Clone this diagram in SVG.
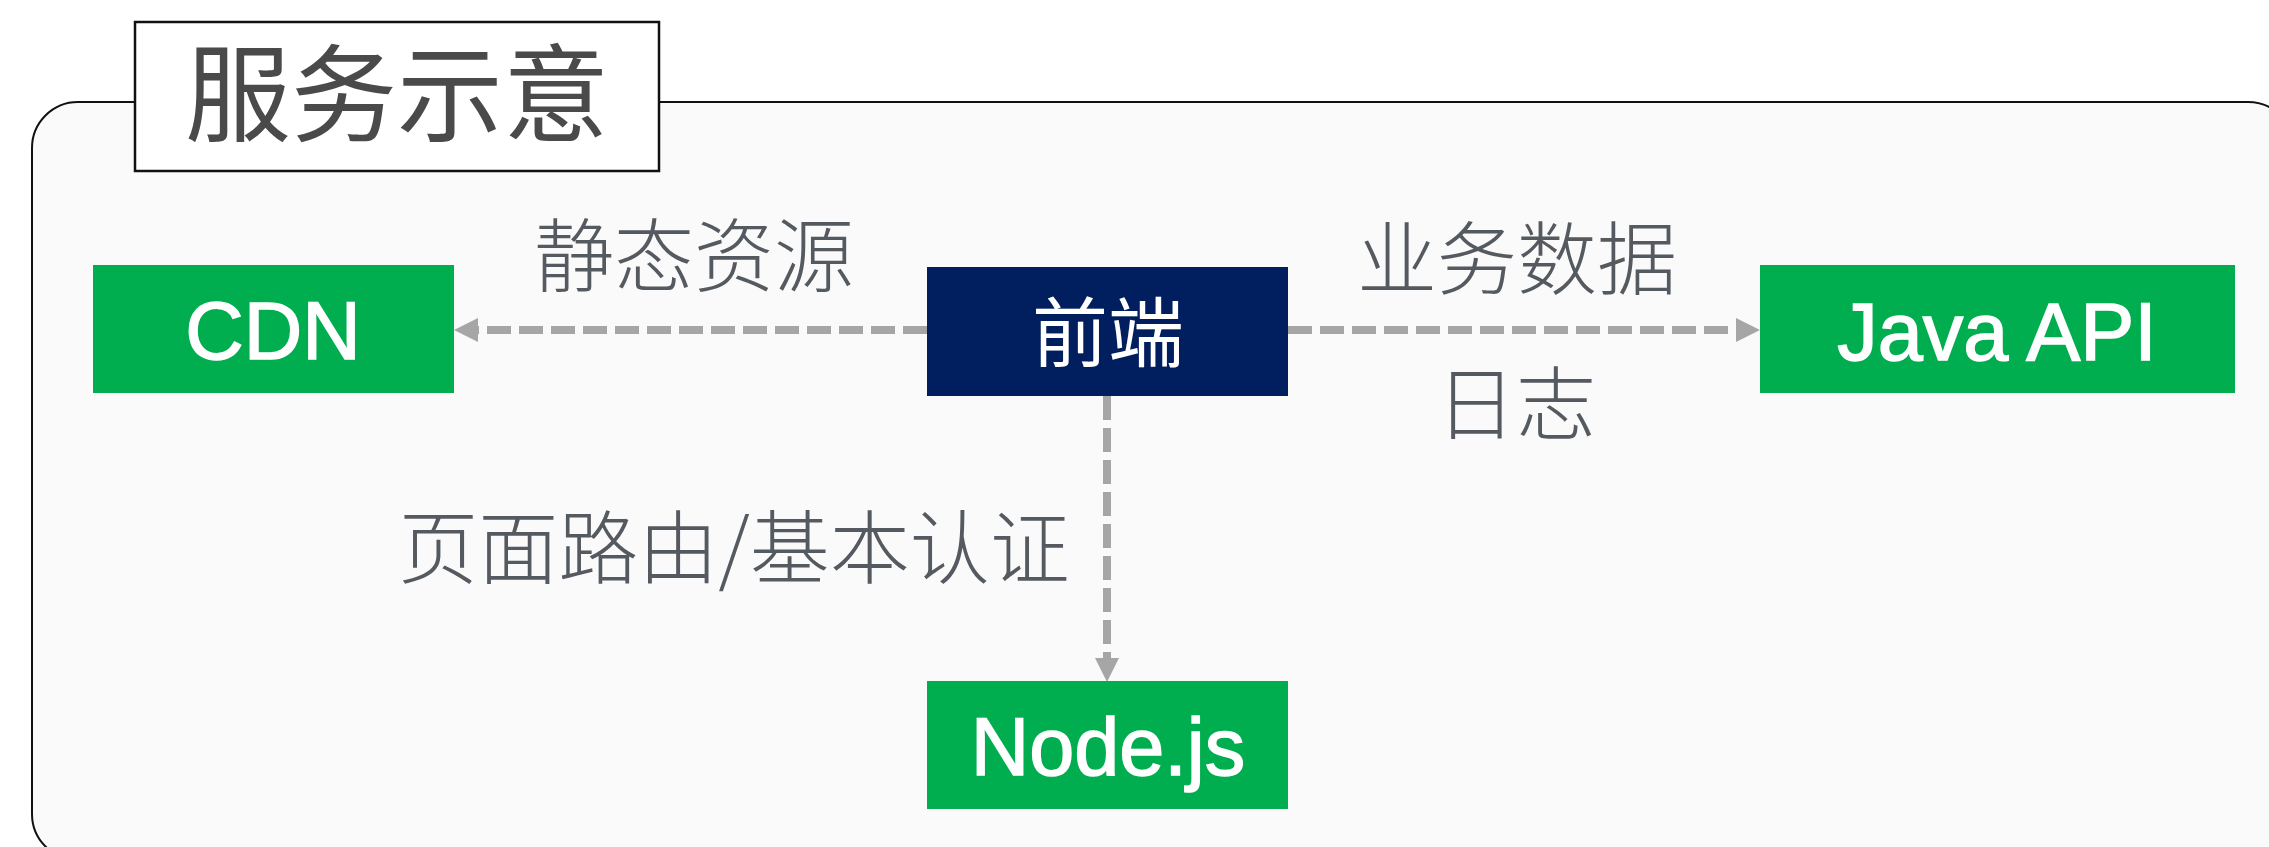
<svg xmlns="http://www.w3.org/2000/svg" width="2269" height="847" viewBox="0 0 2269 847">
<style>
.lbl{font-family:"Noto Sans CJK SC","Noto Sans",sans-serif;font-weight:300;font-size:80px;fill:#555a60;text-anchor:middle;dominant-baseline:central}
.green{fill:#00ae4f}
.wtxt{font-family:"Liberation Sans",Arial,sans-serif;font-size:81px;fill:#ffffff;stroke:#ffffff;stroke-width:1.5;text-anchor:middle}
.conn{fill:none;stroke:#a6a6a6;stroke-width:8;stroke-dasharray:24 8}
</style>
<defs>
<marker id="arr" markerUnits="userSpaceOnUse" markerWidth="24" markerHeight="24" refX="0" refY="12" orient="auto">
<path d="M0,0 L24,12 L0,24 Z" fill="#a6a6a6"/>
</marker>
</defs>
<rect width="2269" height="847" fill="#ffffff"/>
<g id="container">
<rect x="32" y="102" width="2262" height="758" rx="46" ry="46" fill="#fafafa" stroke="#111111" stroke-width="2"/>
</g>
<g id="title">
<rect x="135" y="22" width="524" height="149" fill="#ffffff" stroke="#111111" stroke-width="2.5"/>
<text x="397" y="97" font-family="'Liberation Serif','Noto Sans CJK SC',serif" font-size="106" fill="#4a4a4a" text-anchor="middle" dominant-baseline="central">服务示意</text>
</g>
<g id="connectors">
<line class="conn" x1="927" y1="330" x2="478" y2="330" marker-end="url(#arr)"/>
<line class="conn" x1="1288" y1="330" x2="1736" y2="330" marker-end="url(#arr)"/>
<line class="conn" x1="1107" y1="396" x2="1107" y2="658" marker-end="url(#arr)"/>
</g>
<g id="labels">
<text class="lbl" x="694" y="250">静态资源</text>
<text class="lbl" x="1517" y="253">业务数据</text>
<text class="lbl" x="1516" y="398">日志</text>
<text class="lbl" x="734" y="542">页面路由/基本认证</text>
</g>
<g id="node-cdn">
<rect class="green" x="93" y="265" width="361" height="128"/>
<text class="wtxt" x="273" y="359">CDN</text>
</g>
<g id="node-frontend">
<rect x="927" y="267" width="361" height="129" fill="#011f5e"/>
<text x="1108" y="335" font-family="'Liberation Serif','Noto Sans CJK SC',serif" font-size="76" fill="#ffffff" text-anchor="middle" dominant-baseline="central">前端</text>
</g>
<g id="node-java">
<rect class="green" x="1760" y="265" width="475" height="128"/>
<text class="wtxt" x="1997" y="360">Java API</text>
</g>
<g id="node-nodejs">
<rect class="green" x="927" y="681" width="361" height="128"/>
<text class="wtxt" x="1108" y="775">Node.js</text>
</g>
</svg>
